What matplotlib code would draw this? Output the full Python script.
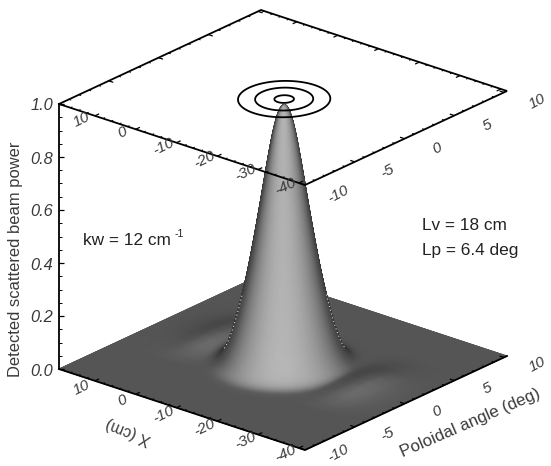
import numpy as np
import matplotlib
matplotlib.use("Agg")
import matplotlib.pyplot as plt
from matplotlib.collections import LineCollection

plt.rcParams['font.family'] = ['Liberation Sans', 'DejaVu Sans']

# ---- data ----
x_range = [18.8, -41.5]
p_range = [-10.0, 10.3]
peak_x = -12.0
peak_p = 0.0
half_x = 9.0     # Lv / 2
half_p = 3.2     # Lp / 2
rho_tab = [0, .1, .2, .3, .4, .5, .6, .7, .8, .9, 1.0, 1.1, 1.2, 1.3, 1.4, 1.5, 1.6, 1.8, 3, 20]
z_tab = [1, .98, .92, .825, .715, .605, .5, .4, .31, .235, .165, .105, .06, .03, .012, .004, .001, 0, 0, 0]
lobe_p = 0.7
lobe_dx = [0, 11, 13, 15, 17, 19, 21, 23, 25, 27, 30, 60]
lobe_dx_z = [0, 0, .005, .015, .022, .022, .015, .008, .004, .0015, 0, 0]
lobe_dp = [0, 1, 2, 3, 4, 5, 20]
lobe_dp_w = [1, .92, .68, .36, .12, 0, 0]
contour_levels = [.2, .5, .9]
x_major = [10, 0, -10, -20, -30, -40]
p_major = [-10, -5, 0, 5, 10]
z_major = [0.0, 0.2, 0.4, 0.6, 0.8, 1.0]
shade_in = [0, .388, 1.0]
shade_out = [50, 85, 182]

W, H = 551, 466
fig = plt.figure(figsize=(W/100, H/100), dpi=100)
ax = fig.add_axes([0, 0, 1, 1])


def project(x, p, z):
    u = (x_range[0] - np.asarray(x, float)) / (x_range[0] - x_range[1])
    v = (np.asarray(p, float) - p_range[0]) / (p_range[1] - p_range[0])
    return 59 + 246*u + 202*v, 369 + 81*u - 94*v - 265*np.asarray(z, float)


def blur(a, n=7):
    k = np.ones(n) / n
    pad = n // 2
    for axis in (0, 1):
        b = np.pad(a, [(pad, pad) if i == axis else (0, 0) for i in (0, 1)], mode='edge')
        a = np.apply_along_axis(lambda m: np.convolve(m, k, mode='valid'), axis, b)
    return a


# rows run back to front so the mesh paints the hidden side first
xs = np.linspace(x_range[0], x_range[1], 301)
ps = np.linspace(p_range[1], p_range[0], 261)
P, X = np.meshgrid(ps, xs)
rho = np.hypot((X - peak_x)/half_x, (P - peak_p)/half_p)
Z = np.interp(rho, rho_tab, z_tab)
Z = Z + np.interp(np.abs(X - peak_x), lobe_dx, lobe_dx_z) * np.interp(np.abs(P - lobe_p), lobe_dp, lobe_dp_w)
Z = blur(blur(Z))

# shading: surface normal against the viewing direction
dZ_dx, dZ_dp = np.gradient(Z, xs, ps)
dw_dU = -dZ_dx * 287 / 321 * (x_range[0] - x_range[1])
dw_dV = dZ_dp * 287 / 316 * (p_range[1] - p_range[0])
norm = np.sqrt(dw_dU**2 + dw_dV**2 + 1)
facing = (-dw_dU*.592 + dw_dV*.706 + .388) / norm
G = np.interp(np.clip(facing, 0, 1), shade_in, shade_out)

SX, SY = project(X, P, Z)
ax.pcolormesh(SX, SY, G, shading='gouraud', cmap='gray', vmin=0, vmax=255, zorder=1)

# faint dotted rim where the lower flanks turn away from the viewer
rim = np.ma.masked_where((Z < .035) | (Z > .26), facing)
ax.contour(SX, SY, rim, levels=[0.02], colors='#d0d0d0', linewidths=0.8,
           linestyles=[(0, (1, 2.5))], zorder=2)

# top-plane contours
TX, TY = project(X, P, 1.0)
ax.contour(TX, TY, Z, levels=contour_levels, colors='black', linewidths=1.3, zorder=3)

# frame
corners = [(x_range[0], p_range[0]), (x_range[1], p_range[0]), (x_range[1], p_range[1]), (x_range[0], p_range[1])]
top = [project(c[0], c[1], 1.0) for c in corners]
ax.plot([t[0] for t in top] + [top[0][0]], [t[1] for t in top] + [top[0][1]], color='black', lw=1.3, zorder=4, solid_joinstyle='miter')
base = [project(c[0], c[1], 0.0) for c in corners[:3]]
ax.plot([b[0] for b in base], [b[1] for b in base], color='black', lw=1.3, zorder=4, solid_joinstyle='miter')
ax.plot([top[0][0], base[0][0]], [top[0][1], base[0][1]], color='black', lw=1.3, zorder=4)

segs, segs_minor = [], []
dp_maj, dp_min = 0.42, 0.2
dx_maj, dx_min = 1.1, 0.55
for xv in np.arange(-40, 18.1, 2):
    maj = int(xv) % 10 == 0
    d = dp_maj if maj else dp_min
    s = segs if maj else segs_minor
    for z in (0, 1):
        s.append([np.array(project(xv, p_range[0], z)), np.array(project(xv, p_range[0] + d, z))])
    s.append([np.array(project(xv, p_range[1], 1)), np.array(project(xv, p_range[1] - d, 1))])
for pv in np.arange(-10, 10.1, 1):
    maj = int(pv) % 5 == 0
    d = dx_maj if maj else dx_min
    s = segs if maj else segs_minor
    for z in (0, 1):
        s.append([np.array(project(x_range[1], pv, z)), np.array(project(x_range[1] + d, pv, z))])
    s.append([np.array(project(x_range[0], pv, 1)), np.array(project(x_range[0] - d, pv, 1))])
for zv in np.arange(0, 1.001, .05):
    maj = int(round(zv*100)) % 20 == 0
    px, py = project(x_range[0], p_range[0], zv)
    (segs if maj else segs_minor).append([(px, py), (px + (5 if maj else 2.5), py)])
ax.add_collection(LineCollection(segs, colors='black', linewidths=0.9, zorder=4))
ax.add_collection(LineCollection(segs_minor, colors='black', linewidths=0.7, zorder=4))

# tick labels
tc = '#3a3a3a'
fs = 11
for zlev in (1, 0):
    for xv in x_major:
        px, py = project(xv, p_range[0], zlev)
        ax.text(px - 13, min(py + 3.5 + (3 if zlev == 0 else 0), 454), f'{xv}', rotation=26, ha='center', va='center',
                fontsize=fs, style='italic', color=tc, zorder=5)
    for pv in p_major:
        px, py = project(x_range[1], pv, zlev)
        ax.text(px + 33, min(py + (7.5 if zlev == 0 else 9.5), 453.5), f'{pv}', rotation=28, ha='center', va='center',
                fontsize=fs, style='italic', color=tc, zorder=5)
for zv in z_major:
    px, py = project(x_range[0], p_range[0], zv)
    ax.text(53, py + 2, f'{zv:.1f}', ha='right', va='center', fontsize=11.8, style='italic', color=tc, zorder=5)

# axis titles and notes
ax.text(16, 259, 'Detected scattered beam power', rotation=90, ha='center', va='center', fontsize=11.9, color=tc)
ax.text(128, 431, 'X (cm)', rotation=158, ha='center', va='center', fontsize=11.5, color=tc)
ax.text(470, 423, 'Poloidal angle (deg)', rotation=23.5, ha='center', va='center', fontsize=12.2, color=tc)
ax.text(83, 245, 'kw = 12 cm', ha='left', va='baseline', fontsize=12.4, color='#222222')
ax.text(175, 237, '-1', ha='left', va='baseline', fontsize=7.5, color='#222222')
ax.text(422, 230, 'Lv = 18 cm', ha='left', va='baseline', fontsize=12.4, color='#222222')
ax.text(422, 255, 'Lp = 6.4 deg', ha='left', va='baseline', fontsize=12.4, color='#222222')

ax.set_xlim(0, W)
ax.set_ylim(H, 0)
ax.axis('off')
fig.savefig('out.png', dpi=100, facecolor='white')
